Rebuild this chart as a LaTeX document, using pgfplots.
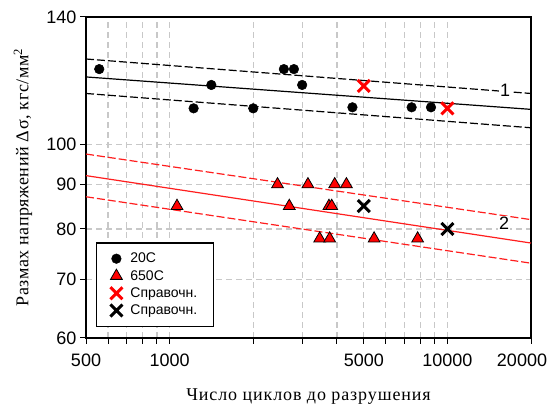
\documentclass[border=0pt]{standalone}
\usepackage{fontspec}
\setmainfont{Liberation Serif}
\newfontfamily\arial{Liberation Sans}
\usepackage{pgfplots}
\pgfplotsset{compat=1.18}
\definecolor{gridgray}{RGB}{200,200,200}
\definecolor{lred}{RGB}{255,30,30}
\begin{document}
\begin{tikzpicture}
\begin{axis}[
  scale only axis, width=445pt, height=321pt,
  xmode=log, ymode=log,
  xmin=500, xmax=20000, ymin=60, ymax=140,
  xtick={500,600,700,800,900,1000,2000,3000,4000,5000,6000,7000,8000,9000,10000,20000},
  xticklabels={500,,,,,1000,,,,5000,,,,,10000,{\hspace*{-18pt}20000}},
  ytick={60,70,80,90,100,140},
  yticklabels={60,70,80,90,100,140},
  xminorticks=false, yminorticks=false,
  grid=major,
  major grid style={gridgray, dash pattern=on 6pt off 4pt, line width=1.3pt},
  tick align=outside, xtick pos=bottom, ytick pos=left,
  major tick length=6pt,
  tick style={black, line width=1pt},
  axis line style={line width=1.3pt},
  ticklabel style={font=\arial\fontsize{18}{18}\selectfont},
  xticklabel style={yshift=-6pt},
  xlabel={Число циклов до разрушения},
  ylabel={Размах напряжений Δσ, кгс/мм\textsuperscript{2}},
  xlabel style={font=\fontsize{18}{18}\selectfont\addfontfeatures{LetterSpace=5},
    at={(axis description cs:0.5,-0.183)}, anchor=center},
  ylabel style={font=\fontsize{18}{18}\selectfont\addfontfeatures{LetterSpace=3},
    at={(axis description cs:-0.1416,0.5)}, anchor=center},
  legend style={at={(axis description cs:0.022,0.035)}, anchor=south west,
    draw=black, line width=1.2pt, fill=white,
    font=\arial\fontsize{14}{14}\selectfont,
    inner xsep=14pt, inner ysep=8pt, row sep=2pt, column sep=6pt},
  legend cell align=left,
]
% 20C band
\addplot[black, line width=1.2pt, forget plot] coordinates {(500,119.5) (20000,109.7)};
\addplot[black, line width=1.2pt, dash pattern=on 8pt off 3pt, forget plot] coordinates {(500,125.3) (20000,114.4)};
\addplot[black, line width=1.2pt, dash pattern=on 8pt off 3pt, forget plot] coordinates {(500,114.4) (20000,104.5)};
% 650C band
\addplot[lred, line width=1.2pt, forget plot] coordinates {(500,92.1) (20000,77.1)};
\addplot[lred, line width=1.2pt, dash pattern=on 8pt off 3pt, forget plot] coordinates {(500,97.5) (20000,82.0)};
\addplot[lred, line width=1.2pt, dash pattern=on 8pt off 3pt, forget plot] coordinates {(500,87.1) (20000,73.1)};

\addplot[only marks, mark=*, mark size=4.8pt, mark options={fill=black, draw=black, line width=0.5pt}]
  coordinates {(558,122) (1220,110) (1413,117) (2000,110) (2578,122) (2802,122)
               (3000,117) (4551,110.3) (7434,110.3) (8729,110.3)};
\addlegendentry{20С}
\addplot[only marks, mark=triangle*, mark size=6.8pt, mark options={fill=red, draw=black, line width=0.8pt}]
  coordinates {(1063,85) (2446,90) (2696,85) (3147,90) (3929,90) (4330,90)
               (3747,85) (3833,85) (3469,78) (3769,78) (5447,78) (7815,78)};
\addlegendentry{650С}
\addplot[only marks, mark=x, mark size=8.5pt, mark options={draw=red, line width=3pt}]
  coordinates {(5000,116.7) (10000,110)};
\addlegendentry{Справочн.}
\addplot[only marks, mark=x, mark size=8.5pt, mark options={draw=black, line width=3pt}]
  coordinates {(5000,85) (10000,80)};
\addlegendentry{Справочн.}

\node[font=\arial\fontsize{18}{18}\selectfont, fill=white, inner sep=1pt] at (axis cs:16150,115.3) {1};
\node[font=\arial\fontsize{18}{18}\selectfont, fill=white, inner sep=1pt] at (axis cs:16000,81.3) {2};
\end{axis}
\pgfresetboundingbox
\path ([xshift=-86pt,yshift=-72pt]current axis.south west) rectangle ([xshift=20pt,yshift=17pt]current axis.north east);
\end{tikzpicture}
\end{document}
